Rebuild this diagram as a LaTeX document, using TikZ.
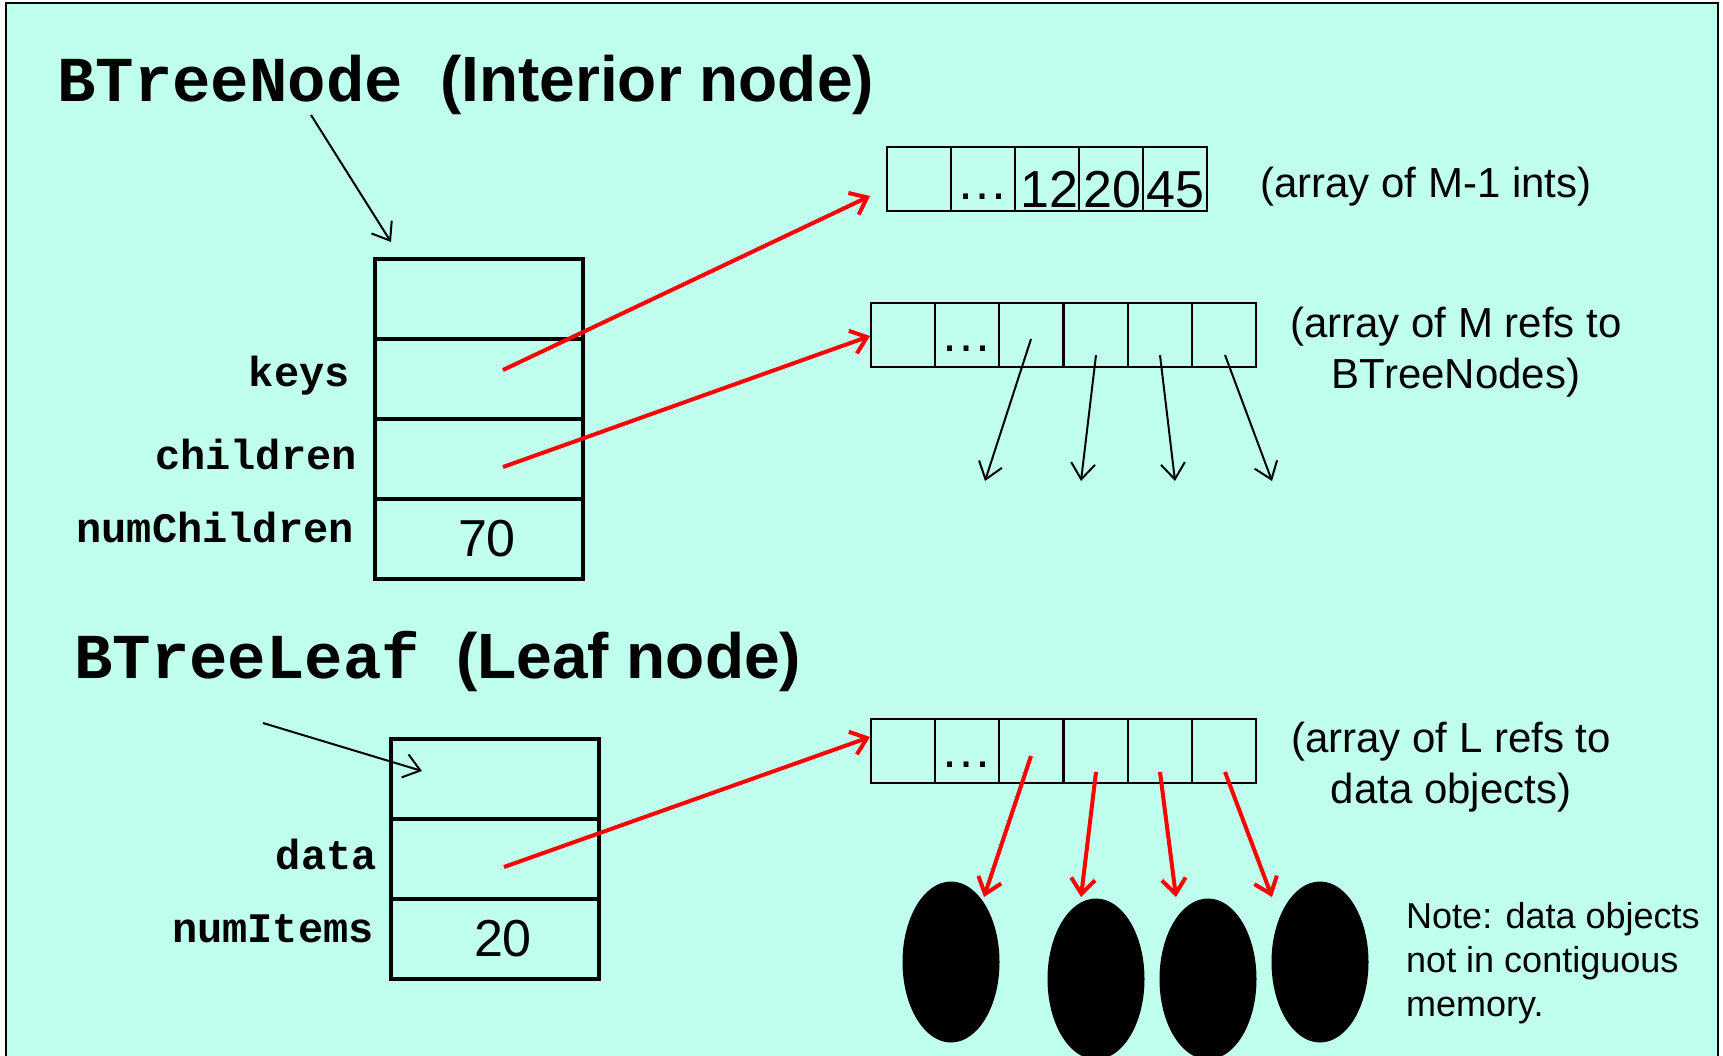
\documentclass[tikz,border=0pt]{standalone}
\usepackage{fontspec}
\setmainfont{Liberation Sans}
\newfontfamily\cour{Liberation Mono}
\usetikzlibrary{arrows.meta,shapes.geometric}
\definecolor{mint}{RGB}{192,255,238}
\begin{document}
\begin{tikzpicture}[x=1pt,y=-1pt,
  field/.style={draw, line width=4.5pt, minimum width=208pt, minimum height=80pt, inner sep=0pt},
  cell/.style={draw, line width=2pt, minimum width=64.2pt, minimum height=64pt, inner sep=0pt},
  lbl/.style={font=\cour\bfseries\fontsize{42}{46}\selectfont, anchor=base east, inner sep=0pt},
  titlemono/.style={font=\cour\bfseries\fontsize{64}{70}\selectfont, anchor=base west, inner sep=0pt},
  titlesans/.style={font=\bfseries\fontsize{64}{70}\selectfont, anchor=base west, inner sep=0pt},
  num/.style={font=\fontsize{52}{56}\selectfont, anchor=base, inner sep=0pt},
  dotsl/.style={font=\fontsize{52}{56}\selectfont, anchor=base, inner sep=0pt},
  note/.style={font=\fontsize{42}{50.5}\selectfont, align=center, inner sep=0pt},
  ptr/.style={line width=2pt, -{Straight Barb[length=16pt,width=24pt]}},
  rptr/.style={red, line width=4pt, -{Straight Barb[length=15pt,width=24pt]}},
  obj/.style={ellipse, fill=black, minimum width=97pt, minimum height=161pt, inner sep=0pt}]
\useasboundingbox (0,0) rectangle (1723,1056);
\fill[white] (0,0) rectangle (1723,1056);
\draw[line width=2pt, fill=mint] (6,3) rectangle (1718,1080);

% titles
\node[titlemono] (t1) at (57,102) {BTreeNode};
\node[titlesans] (t1b) at (440,102) {(Interior node)};
\node[titlemono] (t2) at (74,678) {BTreeLeaf};
\node[titlesans] (t2b) at (456,678) {(Leaf node)};

% interior node box
\node[field] (n1) at (479,299) {};
\node[field] (n2) at (479,379) {};
\node[field] (n3) at (479,459) {};
\node[field] (n4) at (479,539) {};
\node[num] (v70) at (487,556) {70};
\node[lbl] (lkeys) at (350,386) {keys};
\node[lbl] (lchildren) at (357,469) {children};
\node[lbl] (lnum) at (354,542) {numChildren};

% leaf box
\node[field] (m1) at (495,779) {};
\node[field] (m2) at (495,859) {};
\node[field] (m3) at (495,939) {};
\node[num] (v20) at (503,956) {20};
\node[lbl] (ldata) at (377,869) {data};
\node[lbl] (litems) at (374,942) {numItems};

% keys array
\foreach \i/\x in {1/919,2/983,3/1047,4/1111,5/1175}
  \node[cell] (k\i) at (\x,179) {};
\node[dotsl] (kd) at (982,200) {…};
\node[num] (k12) at (1049,208) {12};
\node[num] (k20) at (1112,208) {20};
\node[num] (k45) at (1175,208) {45};
\node[note, anchor=base west] (kl) at (1260,198) {(array of M-1 ints)};

% children array
\foreach \i/\x in {1/903,2/967,3/1031,4/1096,5/1160,6/1224}
  \node[cell] (c\i) at (\x,335) {};
\node[dotsl] (cd) at (966,352) {…};
\node[note, anchor=base] (cl) at (1456,388) {(array of M refs to\\BTreeNodes)};

% data array
\foreach \i/\x in {1/903,2/967,3/1031,4/1096,5/1160,6/1224}
  \node[cell] (d\i) at (\x,751) {};
\node[dotsl] (dd) at (966,767) {…};
\node[note, anchor=base] (dl) at (1451,803) {(array of L refs to\\data objects)};

% data objects
\node[obj] (o1) at (951,962) {};
\node[obj] (o2) at (1096,979) {};
\node[obj] (o3) at (1208,979) {};
\node[obj] (o4) at (1320,962) {};
\node[font=\fontsize{36}{44}\selectfont, align=left, anchor=base west, inner sep=0pt] (nt) at (1406,1016)
  {Note: data objects\\not in contiguous\\memory.};

% coordinates
\coordinate (a1s) at (311,115);  \coordinate (a1e) at (391,242);
\coordinate (a2s) at (263,723);  \coordinate (a2e) at (422,771);
\coordinate (kp) at (503,370);   \coordinate (kt) at (870,196);
\coordinate (cp) at (503,467);   \coordinate (ct) at (870,336);
\coordinate (dp) at (504,867);   \coordinate (dt) at (870,737);
\coordinate (cs3) at (1031,339); \coordinate (ce3) at (985,481);
\coordinate (cs4) at (1096,355); \coordinate (ce4) at (1081,481);
\coordinate (cs5) at (1160,355); \coordinate (ce5) at (1175,481);
\coordinate (cs6) at (1225,355); \coordinate (ce6) at (1272,481);
\coordinate (ds3) at (1031,756); \coordinate (de3) at (984,897);
\coordinate (ds4) at (1096,772); \coordinate (de4) at (1081,897);
\coordinate (ds5) at (1160,772); \coordinate (de5) at (1176,897);
\coordinate (ds6) at (1225,772); \coordinate (de6) at (1272,897);

% black arrows
\draw[ptr] (a1s) -- (a1e);
\draw[ptr] (a2s) -- (a2e);
\foreach \i in {3,4,5,6} \draw[ptr] (cs\i) -- (ce\i);

% red arrows
\draw[rptr] (kp) -- (kt);
\draw[rptr] (cp) -- (ct);
\draw[rptr] (dp) -- (dt);
\foreach \i in {3,4,5,6} \draw[rptr] (ds\i) -- (de\i);
\end{tikzpicture}
\end{document}
